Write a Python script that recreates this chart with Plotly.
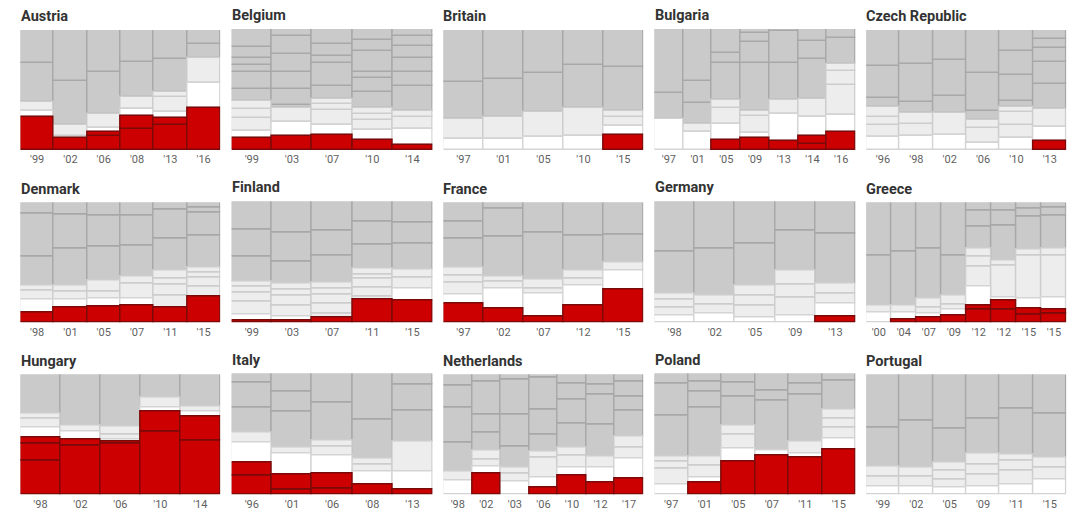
import plotly.graph_objects as go

COUNTRIES = ["Austria", "Belgium", "Britain", "Bulgaria", "Czech Republic",
             "Denmark", "Finland", "France", "Germany", "Greece",
             "Hungary", "Italy", "Netherlands", "Poland", "Portugal"]

# Each bar: seat shares (%) stacked bottom-up inside four groups: far right, white, light, gray.
AUSTRIA_YEARS = ["'99", "'02", "'06", "'08", "'13", "'16"]
AUSTRIA_RED = [[27.2], [10.3], [11.7, 3.6], [17.5, 10.6], [20.6, 5.8], [35]]
AUSTRIA_WHITE = [[5.6], [], [3.3], [5.8], [5], [20.6]]
AUSTRIA_LIGHT = [[6.9], [1.4, 9.2], [11.4], [10.6], [12.5, 4.7], [21.1]]
AUSTRIA_GRAY = [[33, 27.2], [36.7, 42.5], [35.3, 34.7], [29.2, 26.4], [26.9, 24.4], [11.7, 11.7]]

BELGIUM_YEARS = ["'99", "'03", "'07", "'10", "'14"]
BELGIUM_RED = [[10.2], [11.9], [12.4], [8], [3.9]]
BELGIUM_WHITE = [[5.5], [11.6], [8], [8.3], [13.8]]
BELGIUM_LIGHT = [[10.5, 7.5, 6.4], [11], [12.7, 5, 4.1], [8.8, 4.7, 4.7], [9.9, 5]]
BELGIUM_GRAY = [[10.5, 14.1, 5.8, 5.2, 9.4, 14.9], [3, 13.3, 13.3, 14.9, 15.5, 5.5],
                [10.8, 18.8, 6.1, 9.9, 12.2], [13.8, 10.8, 5.2, 17.7, 9.1, 8.8],
                [20.2, 11.9, 11.3, 10.2, 8.3, 5.5]]

BRITAIN_YEARS = ["'97", "'01", "'05", "'10", "'15"]
BRITAIN_RED = [[], [], [], [], [12.8]]
BRITAIN_WHITE = [[9.4], [9.2], [10.6], [11.9], [7.2]]
BRITAIN_LIGHT = [[16.4], [18.3], [21.4], [22.8], [7.8, 4.7]]
BRITAIN_GRAY = [[30.6, 43.6], [31.4, 41.1], [32.5, 35.6], [35.8, 29.4], [36.4, 31.1]]

BULGARIA_YEARS = ["'97", "'01", "'05", "'09", "'13", "'14", "'16"]
BULGARIA_RED = [[], [], [8.3], [9.7], [7.5], [4.7, 7.2], [15.2]]
BULGARIA_WHITE = [[25.4], [14.6], [13.5], [4.1], [22.4], [15.7], [13.5]]
BULGARIA_LIGHT = [[], [7.2], [13, 6.4], [14.6, 4.1], [11.6], [14.9], [24.9, 11.3, 5.8]]
BULGARIA_GRAY = [[22.1, 52.5], [17.1, 18, 43.1], [30.9, 7.7, 20.2], [39.5, 17.4, 7.2, 3.3],
                 [30.4, 26.2, 1.9], [32.3, 15.7, 9.4], [22.1, 7.2]]

CZECH_YEARS = ["'96", "'98", "'02", "'06", "'10", "'13"]
CZECH_RED = [[], [], [], [], [], [7.2]]
CZECH_WHITE = [[10.8], [11.4], [12.5], [5.8], [10], [12.2]]
CZECH_LIGHT = [[10.3, 6.7, 7.8], [10.6, 8.6], [18.1], [12.8, 6.1], [11.1, 10.8, 4.2], [14.7]]
CZECH_GRAY = [[8.1, 26.1, 30.3], [9.2, 31.9, 28.3], [14.4, 29.7, 25.3], [7.5, 31.9, 35.8],
              [4.7, 21.9, 20, 17.2], [20.6, 18.3, 11.7, 7.8, 7.5]]

DENMARK_YEARS = ["'98", "'01", "'05", "'07", "'11", "'15"]
DENMARK_RED = [[8.1], [12.5], [13.6], [14.2], [12.8], [21.4]]
DENMARK_WHITE = [[11.1], [6.4], [6.1], [5.6], [], []]
DENMARK_LIGHT = [[7.8, 3.9], [6.7, 5], [6.1, 8.9], [12.8, 5.6], [9.7, 9.2, 5, 6.4], [8.3, 7.5, 4.4, 4.4]]
DENMARK_GRAY = [[24.2, 35.8, 9.2], [31.1, 28.6, 9.7], [28.9, 25.6, 10.8], [25.8, 25.3, 10.8],
                [26.9, 24.4, 5.6], [26.1, 19.4, 4.7, 3.6]]

FINLAND_YEARS = ["'99", "'03", "'07", "'11", "'15"]
FINLAND_RED = [[1.6], [1.9], [4.4], [19.2], [18.1]]
FINLAND_WHITE = [[4.7], [2.7], [], [], [9.9]]
FINLAND_LIGHT = [[10.7, 7.7, 4.7, 4.1], [9.6, 8, 4.7, 5.2], [2.7, 8.5, 7.7, 4.9, 4.7],
                 [1.9, 7.7, 7.4, 3.8, 4.4], [9.1, 6.6]]
FINLAND_GRAY = [[20.9, 22.8, 22.8], [18.1, 24.5, 25.3], [22.3, 21.2, 23.6], [20.3, 19, 16.2], [21.4, 17.6, 17.3]]

FRANCE_YEARS = ["'97", "'02", "'07", "'12", "'15"]
FRANCE_RED = [[15.8], [11.7], [4.7], [13.9], [27.8]]
FRANCE_WHITE = [[7.5], [16.9], [19.4], [16.9], [15.8]]
FRANCE_LIGHT = [[9.7, 6.4, 6.7], [5.3, 4.2], [4.2, 7.5], [5.8, 6.4], [6.4]]
FRANCE_GRAY = [[23.9, 14.4, 15.6], [33.3, 23.6, 5], [39.2, 25], [29.7, 27.2], [23.3, 26.7]]

GERMANY_YEARS = ["'98", "'02", "'05", "'09", "'13"]
GERMANY_RED = [[], [], [], [], [4.9]]
GERMANY_WHITE = [[6], [7.4], [3.8], [6], [10.7]]
GERMANY_LIGHT = [[6.3, 6.6, 4.9], [7.4, 7.7], [10.2, 8, 8.5], [14.6, 10.7, 11.3], [8.5, 8.2]]
GERMANY_GRAY = [[34.6, 41.5], [38.7, 38.7], [34.6, 34.9], [33.8, 23.6], [40.9, 26.6]]

GREECE_YEARS = ["'00", "'04", "'07", "'09", "'12", "'12", "'15", "'15"]
GREECE_RED = [[], [2.5], [4.2], [6.1], [10.6, 3.3], [10.6, 8.1], [6.7, 5], [7.5, 3.6]]
GREECE_WHITE = [[8.1], [5.8], [3], [4.4], [15.8], [2.2], [8.1], [9.7]]
GREECE_LIGHT = [[5.8], [6.1], [5.3, 7.5], [4.7, 7.5], [16.7, 8.3, 6.9], [26.4, 4.4], [36.4, 5], [35.3, 5.3]]
GREECE_GRAY = [[42.2, 43.9], [44.7, 40.8], [41.7, 38.3], [33.3, 43.9], [18.6, 13.3, 6.4],
               [29.4, 12.5, 6.4], [27.5, 6.4, 5], [27.8, 6.7, 4.2]]

HUNGARY_YEARS = ["'98", "'02", "'06", "'10", "'14"]
HUNGARY_RED = [[28.3, 13.9, 5.3], [41.1, 4.4], [42.2, 1.9], [52.5, 16.9], [44.7, 20.3]]
HUNGARY_WHITE = [[8.3], [6.7], [1.4], [3.3], [4.2]]
HUNGARY_LIGHT = [[7.5, 4.2], [5.6], [4.2, 6.7], [7.8], [4.4]]
HUNGARY_GRAY = [[32.5], [42.2], [43.6], [19.4], [26.4]]

ITALY_YEARS = ["'96", "'01", "'06", "'08", "'13"]
ITALY_RED = [[16, 10.2], [3.8, 12.6], [4.7, 12.6], [8.5], [4.4]]
ITALY_WHITE = [[16.5], [17.9], [15.1], [10.7], [14.8]]
ITALY_LIGHT = [[8.5], [4.9], [6.9, 5.5], [5.8, 4.4], [25]]
ITALY_GRAY = [[20.9, 20.6, 7.4], [29.1, 16.5, 15.1], [31, 24.2], [33, 37.6], [25.3, 21.4, 9.1]]

NETHERLANDS_YEARS = ["'98", "'02", "'03", "'06", "'10", "'12", "'17"]
NETHERLANDS_RED = [[], [17.2], [], [6.1], [15.8], [10.3], [13.3]]
NETHERLANDS_WHITE = [[11.7], [6.1], [10.8], [8.3], [6.9], [12.2], [16.9]]
NETHERLANDS_LIGHT = [[7.2], [6.1, 6.9], [6.4, 5], [16.4, 4.7], [10, 6.1], [9.4], [8.9, 8.9]]
NETHERLANDS_GRAY = [[24.4, 28.9, 18.3, 9.4], [15, 15, 27.8, 5.8], [17.8, 26.9, 28.6, 4.4],
                    [14.4, 21.1, 26.4, 2.5], [20.6, 19.7, 13.3, 7.5], [26.4, 24.7, 8.6, 8.3],
                    [21.7, 11.9, 12.5, 5.8]]

POLAND_YEARS = ["'97", "'01", "'05", "'07", "'11", "'15"]
POLAND_RED = [[], [9.9], [27.2], [32.1], [30.2], [37.6]]
POLAND_WHITE = [[8], [3.8], [10.7], [4.1], [3.8], [8.8]]
POLAND_LIGHT = [[13.5, 5.5, 4.4], [9.9, 8], [11.5, 7.7], [], [9.9], [8.8, 7.4, 7.4]]
POLAND_GRAY = [[33.8, 26.9, 8], [40.7, 12.9, 8.5, 6.3], [23.6, 11.5, 7.7], [41.2, 8.5, 14],
               [38.7, 8.8, 8.5], [24.2, 5.8]]

PORTUGAL_YEARS = ["'99", "'02", "'05", "'09", "'11", "'15"]
PORTUGAL_RED = [[], [], [], [], [], []]
PORTUGAL_WHITE = [[6.4], [6.7], [5.6], [6.7], [8.6], [12.2]]
PORTUGAL_LIGHT = [[8.6, 8.6], [8.3, 7.2], [7.2, 7.2, 6.4], [10, 8.1, 9.4], [11.4, 8.3, 5], [10.3, 8.3]]
PORTUGAL_GRAY = [[32.2, 44.2], [39.7, 38], [28.6, 45], [29.2, 36.7], [38.3, 28.3], [36.7, 32.5]]

YEARS = [AUSTRIA_YEARS, BELGIUM_YEARS, BRITAIN_YEARS, BULGARIA_YEARS, CZECH_YEARS,
         DENMARK_YEARS, FINLAND_YEARS, FRANCE_YEARS, GERMANY_YEARS, GREECE_YEARS,
         HUNGARY_YEARS, ITALY_YEARS, NETHERLANDS_YEARS, POLAND_YEARS, PORTUGAL_YEARS]
RED = [AUSTRIA_RED, BELGIUM_RED, BRITAIN_RED, BULGARIA_RED, CZECH_RED,
       DENMARK_RED, FINLAND_RED, FRANCE_RED, GERMANY_RED, GREECE_RED,
       HUNGARY_RED, ITALY_RED, NETHERLANDS_RED, POLAND_RED, PORTUGAL_RED]
WHITE = [AUSTRIA_WHITE, BELGIUM_WHITE, BRITAIN_WHITE, BULGARIA_WHITE, CZECH_WHITE,
         DENMARK_WHITE, FINLAND_WHITE, FRANCE_WHITE, GERMANY_WHITE, GREECE_WHITE,
         HUNGARY_WHITE, ITALY_WHITE, NETHERLANDS_WHITE, POLAND_WHITE, PORTUGAL_WHITE]
LIGHT = [AUSTRIA_LIGHT, BELGIUM_LIGHT, BRITAIN_LIGHT, BULGARIA_LIGHT, CZECH_LIGHT,
         DENMARK_LIGHT, FINLAND_LIGHT, FRANCE_LIGHT, GERMANY_LIGHT, GREECE_LIGHT,
         HUNGARY_LIGHT, ITALY_LIGHT, NETHERLANDS_LIGHT, POLAND_LIGHT, PORTUGAL_LIGHT]
GRAY = [AUSTRIA_GRAY, BELGIUM_GRAY, BRITAIN_GRAY, BULGARIA_GRAY, CZECH_GRAY,
        DENMARK_GRAY, FINLAND_GRAY, FRANCE_GRAY, GERMANY_GRAY, GREECE_GRAY,
        HUNGARY_GRAY, ITALY_GRAY, NETHERLANDS_GRAY, POLAND_GRAY, PORTUGAL_GRAY]

W, H = 1085, 517
COL_LEFT = [20.5, 231.7, 443.5, 654.5, 866.3]
COL_RIGHT = [220.3, 432.6, 643.4, 855.6, 1066.5]
COL_TOP_SHIFT = [0, -1, 0, -1, 0]
ROW_TOP = [30, 202.5, 374.5]
ROW_BOTTOM = [150, 322.5, 494.5]

STYLE = {
    "gray": ("#cacaca", "#a8a8a8"),
    "light": ("#ededed", "#cdcdcd"),
    "white": ("#ffffff", "#d4d4d4"),
    "red": ("#cc0000", "#7a0a0a"),
}

fig = go.Figure()
annotations = []
layout_axes = {}
for idx, name in enumerate(COUNTRIES):
    row, col = divmod(idx, 5)
    n = len(YEARS[idx])
    suffix = "" if idx == 0 else str(idx + 1)
    xa, ya = "x" + suffix, "y" + suffix

    segs = {k: ([], [], []) for k in STYLE}
    for b in range(n):
        cum = 0.0
        for key, data in (("red", RED[idx]), ("white", WHITE[idx]),
                          ("light", LIGHT[idx]), ("gray", GRAY[idx])):
            for v in data[b]:
                segs[key][0].append(b)
                segs[key][1].append(v)
                segs[key][2].append(cum)
                cum += v
    for key in ("gray", "light", "white", "red"):
        xs, ys, bases = segs[key]
        if not xs:
            continue
        fill, edge = STYLE[key]
        fig.add_trace(go.Bar(x=xs, y=ys, base=bases, width=1, xaxis=xa, yaxis=ya,
                             marker=dict(color=fill, line=dict(color=edge, width=1.4)),
                             showlegend=False, cliponaxis=False, hoverinfo="skip"))

    top_px = ROW_TOP[row] + COL_TOP_SHIFT[col]
    bottom_px = ROW_BOTTOM[row]
    layout_axes["xaxis" + suffix] = dict(
        domain=[COL_LEFT[col] / W, COL_RIGHT[col] / W], range=[-0.5, n - 0.5], anchor=ya,
        tickmode="array", tickvals=list(range(n)), ticktext=YEARS[idx], showgrid=False,
        zeroline=False, showline=False, ticks="", tickangle=0, ticklabelstandoff=1,
        tickfont=dict(family="Roboto", size=11, color="#5f5f5f"))
    layout_axes["yaxis" + suffix] = dict(
        domain=[1 - bottom_px / H, 1 - top_px / H], range=[0, 100], anchor=xa,
        visible=False, showgrid=False, zeroline=False)
    annotations.append(dict(
        text=f"<b>{name}</b>", xref="paper", yref="paper", x=COL_LEFT[col] / W,
        y=1 - (top_px - 4) / H, xanchor="left", yanchor="bottom", showarrow=False,
        xshift=-1, font=dict(family="Roboto", size=14.5, color="#333333"), borderpad=0))

fig.update_layout(width=W, height=H, margin=dict(l=0, r=0, t=0, b=0), barmode="overlay",
                  bargap=0, paper_bgcolor="white", plot_bgcolor="white",
                  annotations=annotations, **layout_axes)
fig.write_html("out.html", config={"displayModeBar": False},
               post_script="document.body.style.margin='0';document.body.style.overflow='hidden';")
